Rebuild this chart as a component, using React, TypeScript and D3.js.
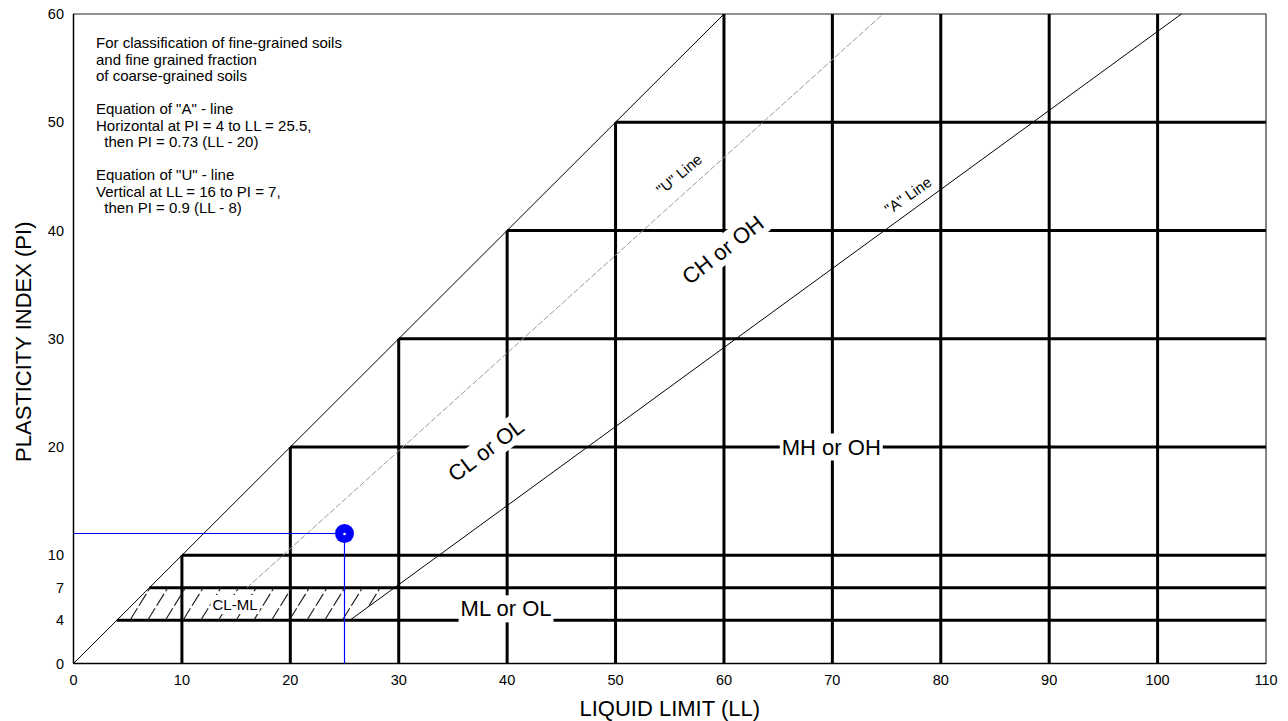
import React, { useEffect, useRef } from "react";
import * as d3 from "d3";

// axis ticks
const llTicks = [0, 10, 20, 30, 40, 50, 60, 70, 80, 90, 100, 110];
const piTicks = [0, 4, 7, 10, 20, 30, 40, 50, 60];

// stepped boundary lines: horizontal ones start at the LL=PI diagonal
const hLines = [
  { pi: 4, from: 4 },
  { pi: 7, from: 7 },
  { pi: 10, from: 10 },
  { pi: 20, from: 20 },
  { pi: 30, from: 30 },
  { pi: 40, from: 40 },
  { pi: 50, from: 50 },
];
const vLines = [
  { ll: 10, to: 10 },
  { ll: 20, to: 20 },
  { ll: 30, to: 30 },
  { ll: 40, to: 40 },
  { ll: 50, to: 50 },
  { ll: 60, to: 60 },
  { ll: 70, to: 60 },
  { ll: 80, to: 60 },
  { ll: 90, to: 60 },
  { ll: 100, to: 60 },
];

// reference lines [LL, PI]
const diagonal = [[0, 0], [60, 60]];
const uLine = [[16, 7], [74.67, 60]];
const aLine = [[25.5, 4], [102.2, 60]];
const clmlZone = [[4, 4], [7, 7], [29.6, 7], [25.5, 4]];

// the tested sample
const samples = [{ ll: 25, pi: 12 }];

const notes = [
  "For classification of fine-grained soils",
  "and fine grained fraction",
  "of coarse-grained soils",
  "",
  "Equation of \"A\" - line",
  "Horizontal at PI = 4 to LL = 25.5,",
  "  then PI = 0.73 (LL - 20)",
  "",
  "Equation of \"U\" - line",
  "Vertical at LL = 16 to PI = 7,",
  "  then PI = 0.9 (LL - 8)",
];

const zoneLabels = [
  { text: "CL or OL", ll: 38.05, pi: 19.7, angle: -37, size: 22 },
  { text: "CH or OH", ll: 59.9, pi: 38.2, angle: -38, size: 22 },
  { text: "MH or OH", ll: 69.9, pi: 20, angle: 0, size: 22 },
  { text: "ML or OL", ll: 39.9, pi: 5.05, angle: 0, size: 22 },
  { text: "CL-ML", ll: 14.9, pi: 5.45, angle: 0, size: 15 },
];
const lineLabels = [
  { text: "\"U\" Line", ll: 55.85, pi: 45.2, angle: -40, size: 15 },
  { text: "\"A\" Line", ll: 76.97, pi: 43.25, angle: -35, size: 15 },
];

const W = 1288;
const H = 721;
const FONT = "'Liberation Sans', Arial, sans-serif";

export default function App() {
  const svgRef = useRef<SVGSVGElement>(null);

  useEffect(() => {
    const svg = d3.select(svgRef.current);
    svg.selectAll("*").remove();

    const x = d3.scaleLinear().domain([0, 110]).range([73.5, 1266]);
    const y = d3.scaleLinear().domain([0, 60]).range([663.5, 14]);
    const crisp = (v: number) => Math.round(v - 0.5) + 0.5;
    const line = d3
      .line<number[]>()
      .x((d) => x(d[0]))
      .y((d) => y(d[1]));

    const g = svg.append("g").style("font-family", FONT);

    // plot frame
    g.append("rect")
      .attr("x", x(0))
      .attr("y", y(60))
      .attr("width", x(110) - x(0))
      .attr("height", y(0) - y(60))
      .attr("fill", "white")
      .attr("stroke", "#222")
      .attr("stroke-width", 1);
    g.append("line")
      .attr("x1", x(110)).attr("x2", x(110))
      .attr("y1", y(0)).attr("y2", y(60))
      .attr("stroke", "#777").attr("stroke-width", 1);

    // thick stepped grid
    g.selectAll(".hl")
      .data(hLines)
      .enter()
      .append("line")
      .attr("x1", (d) => x(d.from))
      .attr("x2", x(110))
      .attr("y1", (d) => y(d.pi))
      .attr("y2", (d) => y(d.pi))
      .attr("stroke", "black")
      .attr("stroke-width", 3);
    g.selectAll(".vl")
      .data(vLines)
      .enter()
      .append("line")
      .attr("x1", (d) => x(d.ll))
      .attr("x2", (d) => x(d.ll))
      .attr("y1", y(0))
      .attr("y2", (d) => y(d.to))
      .attr("stroke", "black")
      .attr("stroke-width", 3);

    // left & bottom axis lines
    g.append("line")
      .attr("x1", x(0)).attr("x2", x(0))
      .attr("y1", y(0)).attr("y2", y(60))
      .attr("stroke", "black").attr("stroke-width", 1.5);
    g.append("line")
      .attr("x1", x(0)).attr("x2", x(110))
      .attr("y1", y(0)).attr("y2", y(0))
      .attr("stroke", "black").attr("stroke-width", 1.5);

    // hatched CL-ML zone
    const defs = svg.append("defs");
    defs
      .append("clipPath")
      .attr("id", "clml")
      .append("path")
      .attr("d", line(clmlZone as number[][]) + "Z");
    const hatch = g.append("g").attr("clip-path", "url(#clml)");
    const y4 = y(4);
    const y7 = y(7);
    const lean = (y4 - y7) * 0.62;
    const hatchStarts = d3.range(x(4) - 40, x(30) + 10, 17.7);
    hatch
      .selectAll("line")
      .data(hatchStarts)
      .enter()
      .append("line")
      .attr("x1", (d) => d)
      .attr("y1", y4)
      .attr("x2", (d) => d + lean)
      .attr("y2", y7)
      .attr("stroke", "#222")
      .attr("stroke-width", 1.2)
      .attr("stroke-dasharray", "14,3");

    // diagonal, U and A lines
    g.append("path")
      .attr("d", line(diagonal as number[][]))
      .attr("fill", "none")
      .attr("stroke", "black")
      .attr("stroke-width", 1);
    g.append("path")
      .attr("d", line(uLine as number[][]))
      .attr("fill", "none")
      .attr("stroke", "#999")
      .attr("stroke-width", 1)
      .attr("stroke-dasharray", "6,2");
    g.append("path")
      .attr("d", line(aLine as number[][]))
      .attr("fill", "none")
      .attr("stroke", "black")
      .attr("stroke-width", 1);

    // labels with white backgrounds
    const putLabel = (l: any, pad: number) => {
      const cx = x(l.ll);
      const cy = y(l.pi);
      const lg = g.append("g").attr("transform", `translate(${cx},${cy}) rotate(${l.angle})`);
      const bg = lg.append("rect").attr("fill", "white");
      const t = lg
        .append("text")
        .attr("text-anchor", "middle")
        .attr("dominant-baseline", "central")
        .style("font-size", l.size + "px")
        .attr("fill", "black")
        .text(l.text);
      const bb = (t.node() as SVGTextElement).getBBox();
      bg.attr("x", bb.x - pad)
        .attr("y", bb.y - pad / 2)
        .attr("width", bb.width + pad * 2)
        .attr("height", bb.height + pad);
    };
    zoneLabels.forEach((l) => putLabel(l, 2));
    lineLabels.forEach((l) => {
      g.append("text")
        .attr("transform", `translate(${x(l.ll)},${y(l.pi)}) rotate(${l.angle})`)
        .attr("text-anchor", "middle")
        .attr("dominant-baseline", "central")
        .style("font-size", l.size + "px")
        .text(l.text);
    });

    // notes
    g.append("g")
      .selectAll("text")
      .data(notes)
      .enter()
      .append("text")
      .attr("x", 96)
      .attr("y", (d, i) => 48 + i * 16.5)
      .style("font-size", "15px")
      .style("white-space", "pre")
      .text((d) => d);

    // sample point with guide lines
    samples.forEach((s) => {
      const px = crisp(x(s.ll));
      const py = crisp(y(s.pi));
      g.append("line")
        .attr("x1", x(0)).attr("x2", px)
        .attr("y1", py).attr("y2", py)
        .attr("stroke", "#0000ff").attr("stroke-width", 1.2);
      g.append("line")
        .attr("x1", px).attr("x2", px)
        .attr("y1", py).attr("y2", y(0))
        .attr("stroke", "#0000ff").attr("stroke-width", 1.2);
      g.append("circle")
        .attr("cx", px).attr("cy", py).attr("r", 9.5)
        .attr("fill", "#0000ff");
      g.append("circle")
        .attr("cx", px).attr("cy", py + 0.5).attr("r", 1.3)
        .attr("fill", "white");
    });

    // tick labels
    g.selectAll(".xt")
      .data(llTicks)
      .enter()
      .append("text")
      .attr("x", (d) => x(d))
      .attr("y", 685)
      .attr("text-anchor", "middle")
      .style("font-size", "14.5px")
      .text((d) => d);
    g.selectAll(".yt")
      .data(piTicks)
      .enter()
      .append("text")
      .attr("x", 64)
      .attr("y", (d) => y(d))
      .attr("text-anchor", "end")
      .attr("dominant-baseline", "central")
      .style("font-size", "14.5px")
      .text((d) => d);

    // axis titles
    g.append("text")
      .attr("x", (x(0) + x(110)) / 2)
      .attr("y", 716)
      .attr("text-anchor", "middle")
      .style("font-size", "22px")
      .text("LIQUID LIMIT (LL)");
    g.append("text")
      .attr("transform", `translate(31,${(y(0) + y(60)) / 2 + 3}) rotate(-90)`)
      .attr("text-anchor", "middle")
      .style("font-size", "22px")
      .text("PLASTICITY INDEX (PI)");
  }, []);

  return (
    <svg
      ref={svgRef}
      width={W}
      height={H}
      style={{ position: "absolute", left: 0, top: 0, background: "white" }}
    />
  );
}
